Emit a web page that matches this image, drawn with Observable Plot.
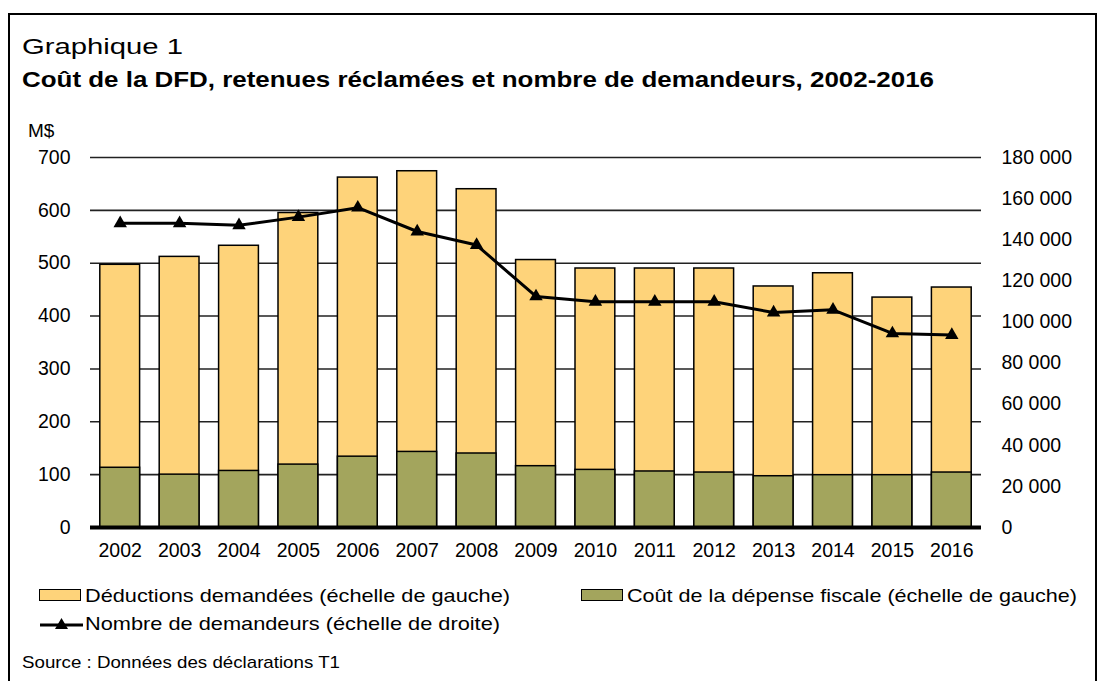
<!DOCTYPE html>
<html><head><meta charset="utf-8">
<script src="https://cdn.jsdelivr.net/npm/d3@7"></script>
<script src="https://cdn.jsdelivr.net/npm/@observablehq/plot@0.6"></script>
<style>
body{margin:0;background:#fff;font-family:"Liberation Sans",Arial,sans-serif;color:#000;}
#wrap{position:relative;width:1106px;height:681px;overflow:hidden;background:#fff;}
#frame{position:absolute;left:8px;top:13px;width:1089px;height:700px;border:2px solid #000;box-sizing:border-box;}
.t{position:absolute;white-space:nowrap;line-height:1;transform-origin:0 50%;}
#chart{position:absolute;left:0;top:130px;}
.sw{position:absolute;width:42px;height:12px;border:1.5px solid #000;box-sizing:border-box;}
</style></head>
<body>
<div id="wrap">
  <div id="frame"></div>
  <div class="t" id="t1" data-w="161" style="left:22px;top:36px;font-size:22px;">Graphique 1</div>
  <div class="t" id="t2" data-w="912" style="left:22px;top:69px;font-size:22px;font-weight:bold;">Coût de la DFD, retenues réclamées et nombre de demandeurs, 2002-2016</div>
  <div class="t" style="left:28px;top:121px;font-size:19px;">M$</div>
  <div id="chart"></div>
  <div class="sw" style="left:39px;top:589px;background:#FED37A;"></div>
  <div class="t" data-w="425" style="left:85px;top:586px;font-size:19px;">Déductions demandées (échelle de gauche)</div>
  <div class="sw" style="left:581px;top:589px;background:#A3A55D;"></div>
  <div class="t" data-w="450" style="left:627px;top:586px;font-size:19px;">Coût de la dépense fiscale (échelle de gauche)</div>
  <svg style="position:absolute;left:39px;top:615px;" width="46" height="18">
    <line x1="1" y1="10" x2="44" y2="10" stroke="#000" stroke-width="3"/>
    <path d="M22.5,3 L29,14 L16,14 Z" fill="#000"/>
  </svg>
  <div class="t" data-w="415" style="left:85px;top:614px;font-size:19px;">Nombre de demandeurs (échelle de droite)</div>
  <div class="t" data-w="318" style="left:22px;top:654px;font-size:17px;">Source : Données des déclarations T1</div>
</div>
<script>
const years = ["2002","2003","2004","2005","2006","2007","2008","2009","2010","2011","2012","2013","2014","2015","2016"];
const deductions = [497, 512, 533, 595, 662, 674, 640, 506, 490, 490, 490, 456, 481, 435, 454];
const cost = [113, 100, 107, 119, 134, 143, 140, 116, 109, 106, 104, 97, 99, 99, 104];
const claimants = [148000, 148000, 147000, 151000, 155600, 144000, 137400, 112400, 109800, 109800, 109800, 104600, 105900, 94400, 93600];
const leftTicks = [0, 100, 200, 300, 400, 500, 600, 700];
const rightTicks = [0, 20000, 40000, 60000, 80000, 100000, 120000, 140000, 160000, 180000];

const leftMax = 700, rightMax = 180000;
const toLeft = v => v * leftMax / rightMax;
const fmt = v => d3.format(",")(v).replace(/,/g, " ");

const rows = years.map((y, i) => ({year: y, ded: deductions[i], cost: cost[i], n: claimants[i]}));

const chart = Plot.plot({
  width: 1106, height: 447,
  marginLeft: 90, marginRight: 125, marginTop: 27, marginBottom: 50,
  style: {fontFamily: '"Liberation Sans", Arial, sans-serif', fontSize: "19.5px", color: "#000", background: "transparent"},
  x: {type: "band", domain: years, paddingInner: 0.33, paddingOuter: 0.165, round: false, label: null},
  y: {domain: [0, leftMax], label: null},
  marks: [
    Plot.ruleY(leftTicks.filter(d => d > 0), {stroke: "#222", strokeWidth: 1.6}),
    Plot.barY(rows, {x: "year", y: "ded", fill: "#FED37A", stroke: "#000", strokeWidth: 1.5}),
    Plot.barY(rows, {x: "year", y: "cost", fill: "#A3A55D", stroke: "#000", strokeWidth: 1.5}),
    Plot.ruleY([0], {stroke: "#000", strokeWidth: 4}),
    Plot.lineY(rows, {x: "year", y: d => toLeft(d.n), stroke: "#000", strokeWidth: 3}),
    Plot.dot(rows, {x: "year", y: d => toLeft(d.n), symbol: "triangle", fill: "#000", stroke: "none", r: 5}),
    Plot.axisY(leftTicks, {anchor: "left", tickSize: 0, tickPadding: 20, label: null}),
    Plot.axisY(rightTicks, {anchor: "right", y: d => toLeft(d), text: d => fmt(d), textAnchor: "start", tickSize: 0, tickPadding: 20, label: null}),
    Plot.axisX({anchor: "bottom", tickSize: 0, tickPadding: 16, label: null})
  ]
});
document.getElementById("chart").appendChild(chart);

document.querySelectorAll("[data-w]").forEach(el => {
  const w = el.getBoundingClientRect().width;
  const target = +el.dataset.w;
  el.style.transform = `scaleX(${target / w})`;
});
</script>
</body></html>
